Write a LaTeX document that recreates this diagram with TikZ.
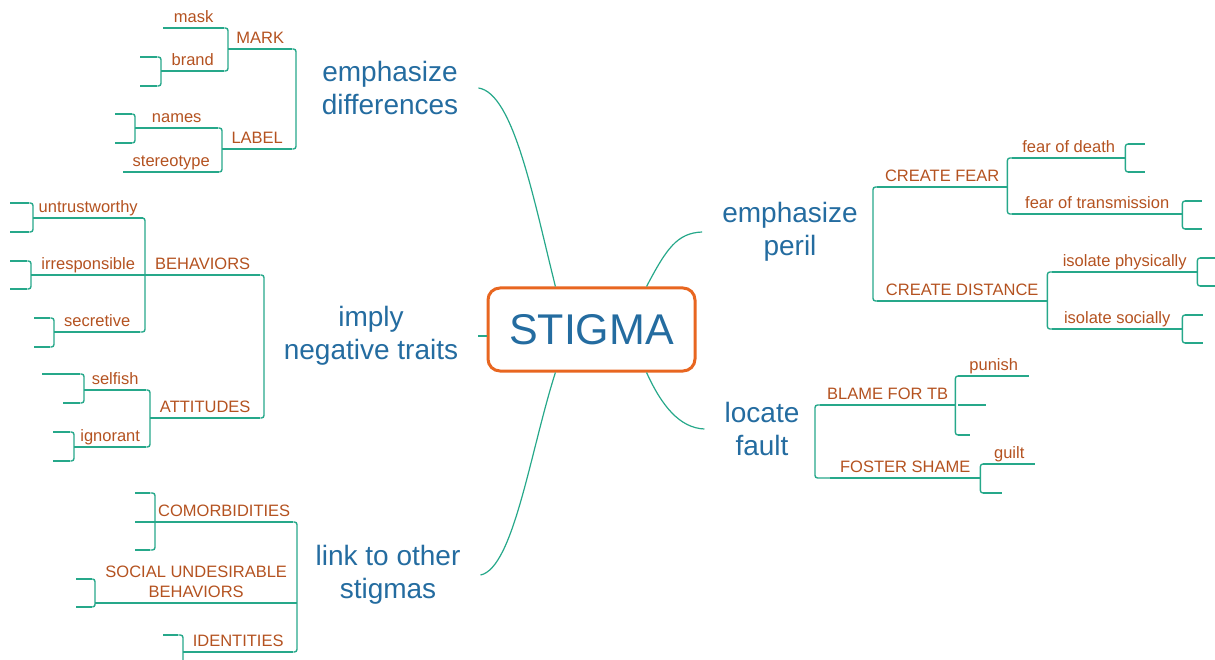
\documentclass[tikz,border=0pt]{standalone}
\usepackage{fontspec}
\setmainfont{Liberation Sans}
\definecolor{topicblue}{RGB}{36,108,160}
\definecolor{subbrown}{RGB}{180,82,32}
\definecolor{linkteal}{RGB}{38,168,138}
\definecolor{boxorange}{RGB}{232,102,32}

\begin{document}
\begin{tikzpicture}[x=1pt,y=-1pt,
	stem/.style={draw=linkteal, line width=1.2pt},
	branch/.style={draw=linkteal, line width=1.4pt, rounded corners=2.5pt},
	topic/.style={text=topicblue, font=\fontsize{28}{33}\selectfont, align=center, inner xsep=20pt},
	sub/.style={anchor=south west, text=subbrown, font=\fontsize{16.5}{20}\selectfont, inner xsep=0pt, inner ysep=2pt, text height=11.5pt, text depth=3.5pt},
	leaf/.style={anchor=south west, inner sep=0pt, minimum height=0pt, text height=0pt, text depth=0pt}]
	
	\useasboundingbox (0,0) rectangle (1215,660);
	
	% centre
	\node[draw=boxorange, line width=3pt, rounded corners=12pt, minimum width=207pt, minimum height=83pt, text=topicblue, font=\fontsize{43}{50}\selectfont] (stigma) at (591.5,329.5) {STIGMA};
	
	% main topics
	\node[topic] (diff)   at (390,88)  {emphasize\\differences};
	\node[topic] (traits) at (371,336) {imply\\negative traits};
	\node[topic] (link)   at (388,575) {link to other\\stigmas};
	\node[topic] (peril)  at (790,232) {emphasize\\peril};
	\node[topic] (fault)  at (762,429) {locate\\fault};
	
	\coordinate (diff-j)   at (296,99);
	\coordinate (traits-j) at (264,346);
	\coordinate (link-j)   at (297,587);
	\coordinate (peril-j)  at (873,244);
	\coordinate (fault-j)  at (815,441);
	
	% emphasize differences
	\node[sub, minimum width=64pt] (mark)  at (228,49)  {MARK};
	\node[sub, minimum width=70pt] (label) at (222,149) {LABEL};
	\node[sub, minimum width=61pt] (mask)  at (163,28)  {mask};
	\node[sub, minimum width=63pt] (brand) at (161,71)  {brand};
	\node[sub, minimum width=83pt] (names) at (135,128) {names};
	\node[sub, minimum width=96pt] (stereo) at (123,172) {stereotype};
	\node[leaf, minimum width=17pt] (brand-a) at (140,57)  {};
	\node[leaf, minimum width=17pt] (brand-b) at (140,86)  {};
	\node[leaf, minimum width=17pt] (names-a) at (115,114) {};
	\node[leaf, minimum width=17pt] (names-b) at (115,143) {};
	
	% imply negative traits
	\node[sub, minimum width=115pt] (behav) at (145,275) {BEHAVIORS};
	\node[sub, minimum width=110pt] (attit) at (150,418) {ATTITUDES};
	\node[sub, minimum width=110pt] (untrust) at (33,218) {untrustworthy};
	\node[sub, minimum width=114pt] (irresp)  at (31,275) {irresponsible};
	\node[sub, minimum width=86pt]  (secret)  at (54,332) {secretive};
	\node[sub, minimum width=62pt]  (selfish) at (84,390) {selfish};
	\node[sub, minimum width=72pt]  (ignorant) at (74,447) {ignorant};
	\node[leaf, minimum width=19pt] (untrust-a) at (10,203) {};
	\node[leaf, minimum width=19pt] (untrust-b) at (10,232) {};
	\node[leaf, minimum width=17pt] (irresp-a)  at (10,261) {};
	\node[leaf, minimum width=17pt] (irresp-b)  at (10,289) {};
	\node[leaf, minimum width=16pt] (secret-a)  at (34,318) {};
	\node[leaf, minimum width=16pt] (secret-b)  at (34,347) {};
	\node[leaf, minimum width=38pt] (selfish-a) at (42,374) {};
	\node[leaf, minimum width=17pt] (selfish-b) at (63,403) {};
	\node[leaf, minimum width=17pt] (ignorant-a) at (53,432) {};
	\node[leaf, minimum width=17pt] (ignorant-b) at (53,461) {};
	
	% link to other stigmas
	\node[sub, minimum width=138pt] (comorb) at (155,522) {COMORBIDITIES};
	\node[sub, minimum width=202pt, align=center] (social) at (95,603) {SOCIAL UNDESIRABLE\\BEHAVIORS};
	\node[sub, minimum width=110pt] (ident) at (183,652) {IDENTITIES};
	\node[leaf, minimum width=15pt] (comorb-a) at (135,493) {};
	\node[leaf, minimum width=20pt] (comorb-b) at (135,522) {};
	\node[leaf, minimum width=15pt] (comorb-c) at (135,550) {};
	\node[leaf, minimum width=16pt] (social-a) at (76,579) {};
	\node[leaf, minimum width=16pt] (social-b) at (76,607) {};
	\node[leaf, minimum width=15pt] (ident-a)  at (163,635) {};
	\node[leaf, minimum width=15pt] (ident-b)  at (163,668) {};
	
	% emphasize peril
	\node[sub, minimum width=130pt] (fear)     at (877,187) {CREATE FEAR};
	\node[sub, minimum width=170pt] (distance) at (877,301) {CREATE DISTANCE};
	\node[sub, minimum width=113pt] (death)    at (1012,158) {fear of death};
	\node[sub, minimum width=170pt] (transm)   at (1012,214) {fear of transmission};
	\node[sub, minimum width=145pt] (physic)   at (1052,272) {isolate physically};
	\node[sub, minimum width=130pt] (socially) at (1052,329) {isolate socially};
	\node[leaf, minimum width=17pt] (death-a)    at (1128,144) {};
	\node[leaf, minimum width=17pt] (death-b)    at (1128,172) {};
	\node[leaf, minimum width=17pt] (transm-a)   at (1185,201) {};
	\node[leaf, minimum width=17pt] (transm-b)   at (1185,229) {};
	\node[leaf, minimum width=15pt] (physic-a)   at (1200,258) {};
	\node[leaf, minimum width=15pt] (physic-b)   at (1200,286) {};
	\node[leaf, minimum width=18pt] (socially-a) at (1185,315) {};
	\node[leaf, minimum width=18pt] (socially-b) at (1185,343) {};
	
	% locate fault
	\node[sub, minimum width=135pt] (blame)  at (820,405) {BLAME FOR TB};
	\node[sub, minimum width=150pt] (shame)  at (830,478) {FOSTER SHAME};
	\node[sub, minimum width=71pt]  (punish) at (958,376) {punish};
	\node[sub, minimum width=52pt]  (guilt)  at (983,464) {guilt};
	\node[leaf, minimum width=28pt] (blame-b) at (958,405) {};
	\node[leaf, minimum width=12pt] (blame-c) at (958,435) {};
	\node[leaf, minimum width=19pt] (guilt-b) at (983,493) {};
	
	% underlines
	\foreach \n in {mark,label,mask,brand,names,stereo,brand-a,brand-b,names-a,names-b,
		behav,attit,untrust,irresp,secret,selfish,ignorant,untrust-a,untrust-b,irresp-a,irresp-b,
		secret-a,secret-b,selfish-a,selfish-b,ignorant-a,ignorant-b,
		comorb,social,ident,comorb-a,comorb-b,comorb-c,social-a,social-b,ident-a,ident-b,
		fear,distance,death,transm,physic,socially,death-a,death-b,transm-a,transm-b,
		physic-a,physic-b,socially-a,socially-b,
		blame,shame,punish,guilt,blame-b,blame-c,guilt-b}
		\draw[branch] (\n.south west) -- (\n.south east);
	
	% brackets, left side
	\draw[branch] (mark.south east) -| (diff-j) |- (label.south east);
	\draw[branch] (mask.south east) -| (mark.south west) |- (brand.south east);
	\draw[branch] (names.south east) -| (label.south west) |- (stereo.south east);
	\draw[branch] (brand-a.south east) -| (brand.south west) |- (brand-b.south east);
	\draw[branch] (names-a.south east) -| (names.south west) |- (names-b.south east);
	
	\draw[branch] (behav.south east) -| (traits-j) |- (attit.south east);
	\draw[branch] (untrust.south east) -| (behav.south west) |- (secret.south east);
	\draw[branch] (selfish.south east) -| (attit.south west) |- (ignorant.south east);
	\draw[branch] (untrust-a.south east) -| (untrust.south west) |- (untrust-b.south east);
	\draw[branch] (irresp-a.south east) -| (irresp.south west) |- (irresp-b.south east);
	\draw[branch] (secret-a.south east) -| (secret.south west) |- (secret-b.south east);
	\draw[branch] (selfish-a.south east) -| (selfish.south west) |- (selfish-b.south east);
	\draw[branch] (ignorant-a.south east) -| (ignorant.south west) |- (ignorant-b.south east);
	
	\draw[branch] (comorb.south east) -| (link-j) |- (ident.south east);
	\draw[branch] (comorb-a.south east) -| (comorb.south west) |- (comorb-c.south east);
	\draw[branch] (social-a.south east) -| (social.south west) |- (social-b.south east);
	\draw[branch] (ident-a.south east) -| (ident.south west) |- (ident-b.south east);
	
	% brackets, right side
	\draw[branch] (fear.south west) -| (peril-j) |- (distance.south west);
	\draw[branch] (death.south west) -| (fear.south east) |- (transm.south west);
	\draw[branch] (physic.south west) -| (distance.south east) |- (socially.south west);
	\draw[branch] (death-a.south west) -| (death.south east) |- (death-b.south west);
	\draw[branch] (transm-a.south west) -| (transm.south east) |- (transm-b.south west);
	\draw[branch] (physic-a.south west) -| (physic.south east) |- (physic-b.south west);
	\draw[branch] (socially-a.south west) -| (socially.south east) |- (socially-b.south west);
	
	\draw[branch] (blame.south west) -| (fault-j) |- (shame.south west);
	\draw[branch] (punish.south west) -| (blame.south east) |- (blame-c.south west);
	\draw[branch] (guilt.south west) -| (shame.south east) |- (guilt-b.south west);
	
	% stems from the centre
	\draw[stem] (diff.east) .. controls +(35,5) and +(-22,-88) .. (stigma.130);
	\draw[stem] (traits.east) -- (traits.east -| stigma.west);
	\draw[stem] (link.east) .. controls +(33,-7) and +(-25,78) .. (stigma.230);
	\draw[stem] (stigma.38) .. controls +(20,-38) and +(-25,1) .. (peril.west);
	\draw[stem] (stigma.322) .. controls +(15,33) and +(-25,-1) .. (fault.west);
	
\end{tikzpicture}
\end{document}
